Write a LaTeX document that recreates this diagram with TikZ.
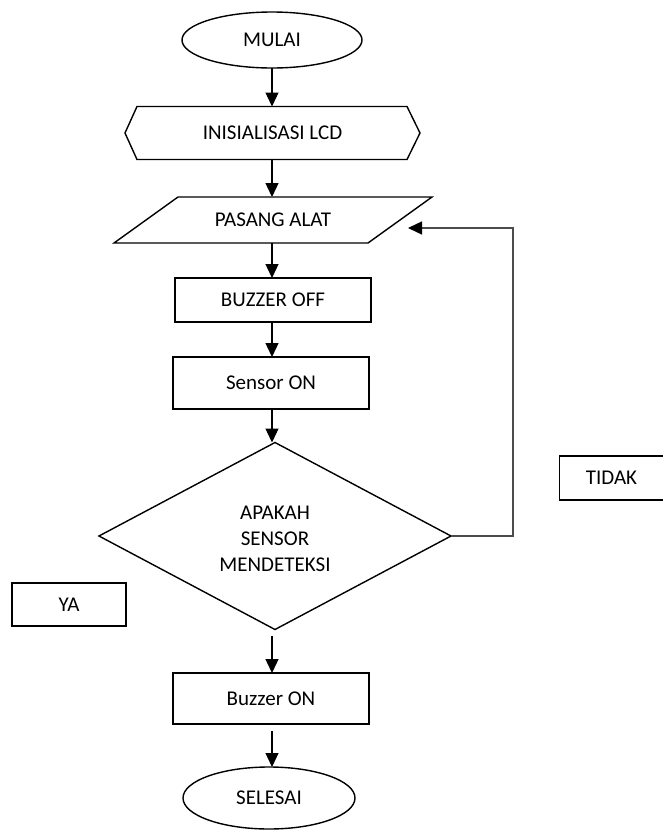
\documentclass[tikz,border=0pt]{standalone}
\usepackage{fontspec}
\setmainfont{Carlito}
\usetikzlibrary{shapes.geometric,arrows.meta}
\begin{document}
\begin{tikzpicture}[x=1pt,y=-1pt,
  every node/.style={font=\fontsize{21}{26}\selectfont, inner sep=0pt, outer sep=0pt},
  shp/.style={draw=black, line width=1.4pt},
  term/.style={shp, ellipse},
  procbox/.style={shp, rectangle, minimum width=196pt},
  outline/.style={rectangle},
  lab/.style={shp, rectangle},
  arr/.style={line width=1.3pt, -{Triangle[length=14pt,width=13pt]}},
  loopline/.style={line width=1.2pt, draw=black!70}
]
\useasboundingbox (0,0) rectangle (663,831);

\node[term, minimum width=180pt, minimum height=56pt] (mulai) at (272,40) {MULAI};

\node[outline, minimum width=295pt, minimum height=53pt] (hex) at (272.5,133) {INISIALISASI LCD};
\draw[shp, line join=miter] (hex.west) -- ([xshift=12pt]hex.north west) -- ([xshift=-13pt]hex.north east)
  -- (hex.east) -- ([xshift=-13pt]hex.south east) -- ([xshift=12pt]hex.south west) -- cycle;

\node[outline, minimum width=254pt, minimum height=46pt] (para) at (273,220) {PASANG ALAT};
\draw[shp] ([xshift=32pt]para.north west) -- ([xshift=32pt]para.north east)
  -- ([xshift=-32pt]para.south east) -- ([xshift=-32pt]para.south west) -- cycle;

\node[procbox, minimum height=44pt] (boff) at (273,300) {BUZZER OFF};
\node[procbox, minimum height=52pt] (son) at (271,383) {Sensor ON};

\node[shp, diamond, minimum width=352pt, minimum height=187pt] (dia) at (275,536) {};
\node[align=center] (diatxt) at (275,539) {APAKAH\\SENSOR\\MENDETEKSI};

\node[procbox, minimum height=51pt] (bon) at (271,698.5) {Buzzer ON};
\node[term, minimum width=172pt, minimum height=62pt] (sel) at (269,798) {SELESAI};

\node[lab, minimum width=114pt, minimum height=43pt] (ya) at (69,604.5) {YA};
\node[lab, minimum width=104pt, minimum height=44pt] (tidak) at (611.5,478) {TIDAK};

\coordinate (corner) at (513,228);
\coordinate (loopin) at (408,228);

\draw[arr] (mulai.south) -- (mulai.south |- hex.north);
\draw[arr] (mulai.south |- hex.south) -- (mulai.south |- para.north);
\draw[arr] (mulai.south |- para.south) -- (mulai.south |- boff.north);
\draw[arr] (mulai.south |- boff.south) -- (mulai.south |- son.north);
\draw[arr] (mulai.south |- son.south) -- (mulai.south |- dia.north);
\draw[arr] ([yshift=-6pt]mulai.south |- dia.south) -- (mulai.south |- bon.north);
\draw[arr] ([yshift=-7pt]mulai.south |- bon.south) -- (mulai.south |- sel.north);

\draw[loopline] (dia.east) -| (corner) -- ([xshift=12pt]loopin);
\draw[arr] ([xshift=13pt]loopin) -- (loopin);
\end{tikzpicture}
\end{document}
